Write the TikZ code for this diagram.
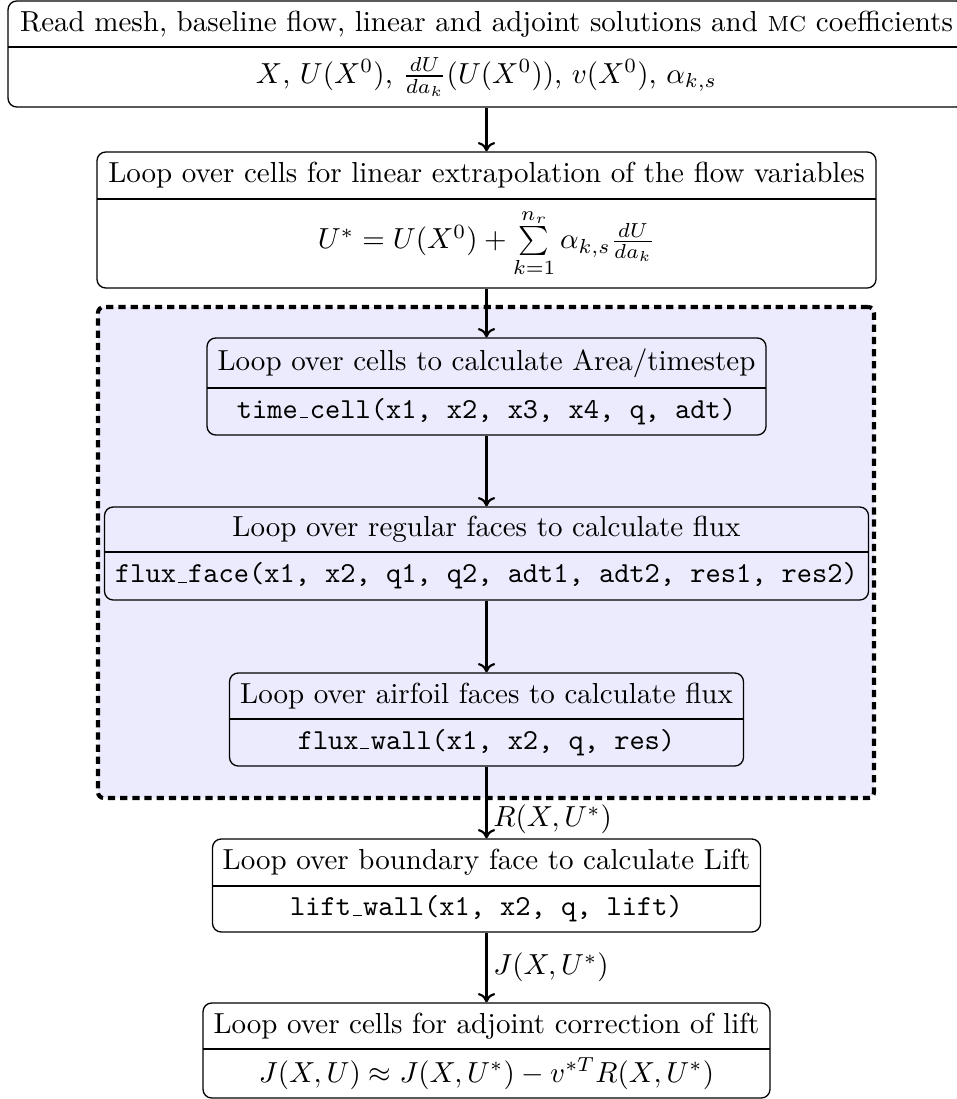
\documentclass[tikz,border=0pt]{standalone}
\usetikzlibrary{arrows.meta}
\usepackage{amsmath}

% one drawing unit is one pixel of the final image
\def\u{0.345pt}
\definecolor{loopfill}{RGB}{235,235,253}

% low rule used as the underscore in routine names
\newcommand{\lowrule}{\leavevmode\kern.06em\vbox{\hrule width.3em}\kern.06em}

\tikzset{
  boxframe/.style={draw, line width=0.45pt, rounded corners=3pt, inner sep=0pt},
  rowtext/.style={inner sep=0pt, align=center},
  divider/.style={line width=0.45pt},
  flowarrow/.style={-{To[length=3.2pt,width=6pt]}, line width=0.75pt},
  edgelabel/.style={inner sep=2pt, right},
  loopregion/.style={draw, fill=loopfill, line width=1.4pt,
    dash pattern=on 2.5pt off 1.7pt, rounded corners=2pt, inner sep=0pt},
}

% \flowbox{name}{width}{top}{divider}{bottom}{header}{body}
\newcommand{\flowbox}[7]{%
  \node[boxframe, minimum width={#2*\u}, minimum height={(#5-#3)*\u}]
    (#1) at (486.5,{(#3+#5)/2}) {};
  \node[rowtext] (#1-head) at (486.5,{(#3+#4)/2}) {#6};
  \node[rowtext] (#1-body) at (486.5,{(#4+#5)/2}) {#7};
  \draw[divider] ({486.5-#2/2},#4) -- ({486.5+#2/2},#4);
}

\begin{document}
\begin{tikzpicture}[x=\u, y=-\u]
\useasboundingbox (0,0) rectangle (957,1099);

% shaded region grouping the residual computation
\node[loopregion, minimum width={776*\u}, minimum height={491*\u}]
  (loop) at (486,552.5) {};

\flowbox{read}{957}{1}{47}{107}
  {Read mesh, baseline flow, linear and adjoint solutions and \textsc{mc} coefficients}
  {$X$, $U(X^0)$, $\frac{dU}{da_k}(U(X^0))$, $v(X^0)$, $\alpha_{k,s}$}

\flowbox{extrap}{779}{152}{199}{288}
  {Loop over cells for linear extrapolation of the flow variables}
  {$U^* = U(X^0) + \sum\limits_{k=1}^{n_r}\alpha_{k,s}\frac{dU}{da_k}$}

\flowbox{time}{559}{338}{388}{435}
  {Loop over cells to calculate Area/timestep}
  {\texttt{time\lowrule cell(x1, x2, x3, x4, q, adt)}}

\flowbox{face}{764}{507}{552}{600}
  {Loop over regular faces to calculate flux}
  {\texttt{flux\lowrule face(x1, x2, q1, q2, adt1, adt2, res1, res2)}}

\flowbox{wall}{514}{673}{719}{766}
  {Loop over airfoil faces to calculate flux}
  {\texttt{flux\lowrule wall(x1, x2, q, res)}}

\flowbox{lift}{548}{839}{886}{932}
  {Loop over boundary face to calculate Lift}
  {\texttt{lift\lowrule wall(x1, x2, q, lift)}}

\flowbox{adj}{567}{1003}{1049}{1098}
  {Loop over cells for adjoint correction of lift}
  {$J(X,U) \approx J(X,U^*) - v^{*T}R(X,U^*)$}

\draw[flowarrow] (read.south) -- (extrap.north);
\draw[flowarrow] (extrap.south) -- (time.north);
\draw[flowarrow] (time.south) -- (face.north);
\draw[flowarrow] (face.south) -- (wall.north);
\draw[flowarrow] (wall.south) -- node[edgelabel, pos=0.74] {$R(X,U^*)$} (lift.north);
\draw[flowarrow] (lift.south) -- node[edgelabel, pos=0.5] {$J(X,U^*)$} (adj.north);
\end{tikzpicture}
\end{document}
